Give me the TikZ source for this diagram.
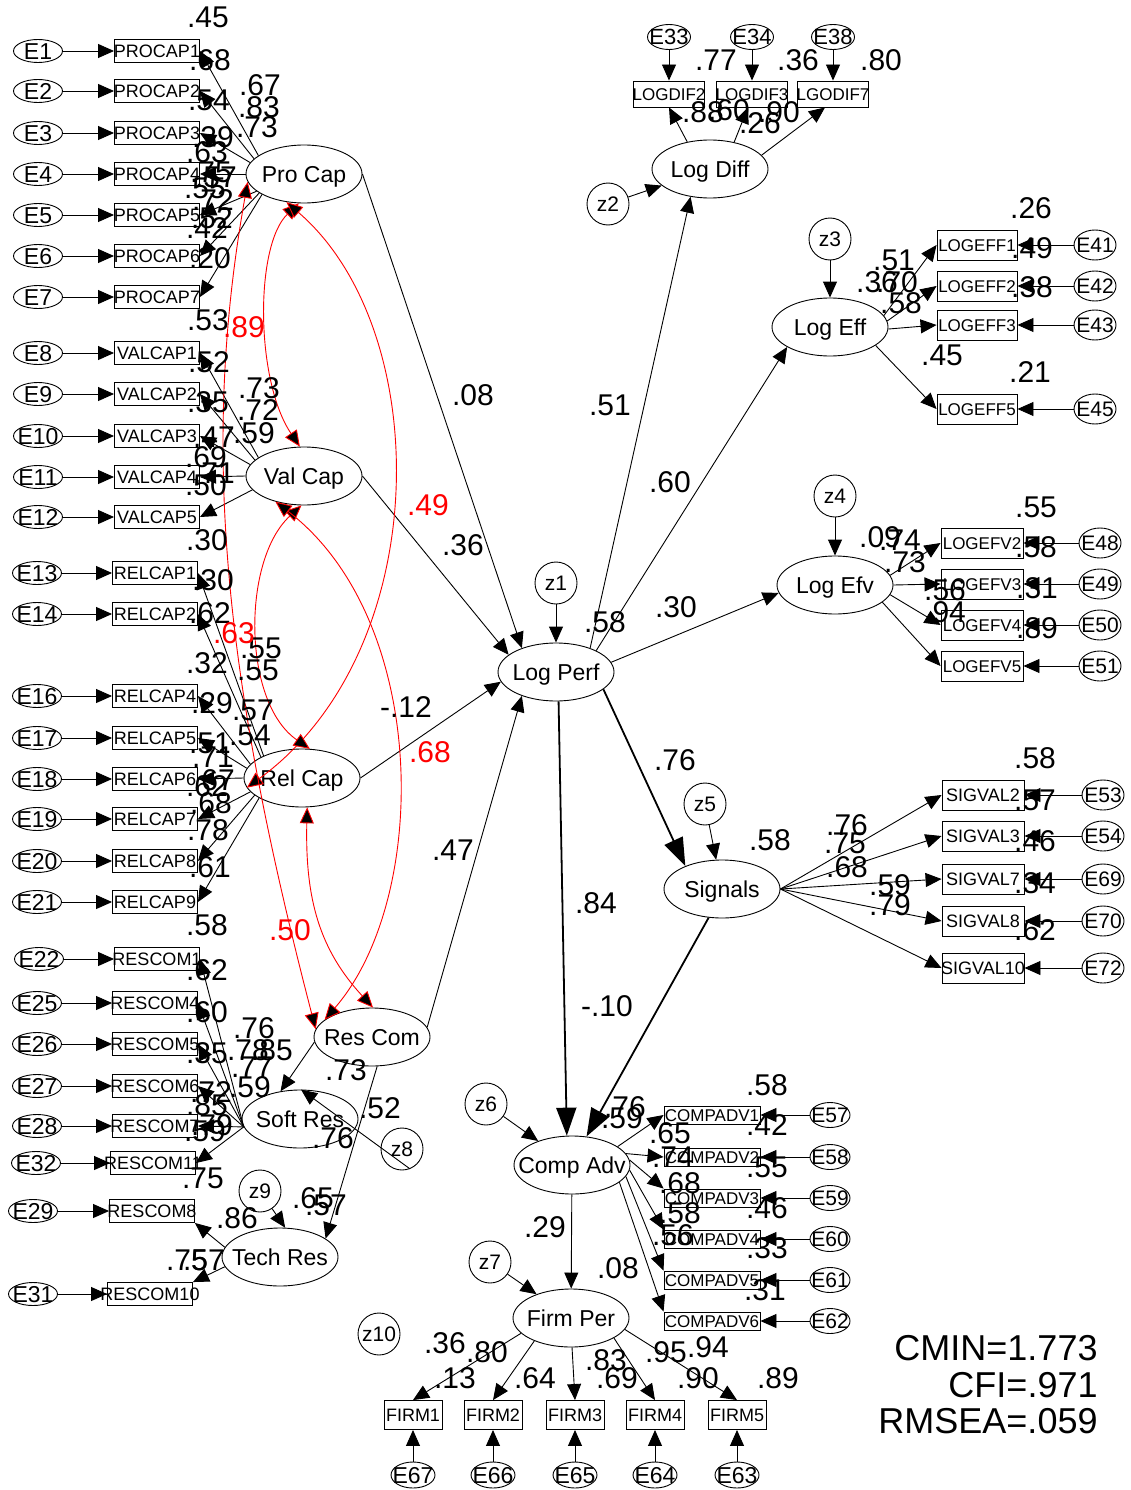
\documentclass[tikz,border=0pt]{standalone}
\usepackage{fontspec}
\setmainfont{Liberation Sans}
\usetikzlibrary{arrows.meta,shapes.geometric}
\newcommand\fs[1]{\fontsize{#1}{#1}\selectfont}
\newcommand\cTx[1]{\makebox[0pt]{\raisebox{-0.36em}[0pt][0pt]{#1}}}
\begin{document}
\begin{tikzpicture}[x=1pt,y=-1pt,line width=0.9pt,
 lat/.style={draw,ellipse,minimum width=116pt,minimum height=58pt,inner sep=0pt,font=\fs{23}},
 obs/.style={draw,rectangle,minimum width=85pt,minimum height=23pt,inner sep=0pt,font=\fs{18}},
 err/.style={draw,ellipse,minimum width=49pt,minimum height=23pt,inner sep=0pt,font=\fs{23}},
 rerr/.style={draw,ellipse,minimum width=42pt,minimum height=30pt,inner sep=0pt,font=\fs{21}},
 dis/.style={draw,circle,minimum size=42pt,inner sep=0pt,font=\fs{21}},
 lbl/.style={inner sep=0pt,font=\fs{30}},
 rlbl/.style={lbl,text=red},
 stat/.style={inner sep=0pt,font=\fs{36},anchor=east},
 pth/.style={line width=0.9pt,-{Triangle[length=16pt,width=14pt]}},
 thk/.style={line width=1.8pt,-{Triangle[length=28pt,width=20pt]}},
 cov/.style={red,line width=0.9pt,{Triangle[length=16pt,width=14pt,fill=black]}-{Triangle[length=16pt,width=14pt,fill=black]}}
]
\fill[white] (0,0) rectangle (1130,1490);
\useasboundingbox (0,0) rectangle (1130,1490);

% ---------- latent variables ----------
\node[lat] (pc) at (304,174) {\cTx{Pro Cap}};
\node[lat] (vc) at (304,476) {\cTx{Val Cap}};
\node[lat] (rl) at (302,778) {\cTx{Rel Cap}};
\node[lat] (rc) at (372,1037) {\cTx{Res Com}};
\node[lat] (sr) at (300,1119) {\cTx{Soft Res}};
\node[lat] (tr) at (280,1257) {\cTx{Tech Res}};
\node[lat] (lp) at (556,672) {\cTx{Log Perf}};
\node[lat] (ld) at (710,169) {\cTx{Log Diff}};
\node[lat] (le) at (830,327) {\cTx{Log Eff}};
\node[lat] (lv) at (835,585) {\cTx{Log Efv}};
\node[lat] (sg) at (722,889) {\cTx{Signals}};
\node[lat] (ca) at (572,1165) {\cTx{Comp Adv}};
\node[lat] (fp) at (571,1318) {\cTx{Firm Per}};

% ---------- disturbances ----------
\node[dis] (z1) at (556,583) {\cTx{z1}};
\node[dis] (z2) at (608,204) {\cTx{z2}};
\node[dis] (z3) at (830,239) {\cTx{z3}};
\node[dis] (z4) at (835,496) {\cTx{z4}};
\node[dis] (z5) at (705,804) {\cTx{z5}};
\node[dis] (z6) at (486,1104) {\cTx{z6}};
\node[dis] (z7) at (490,1262) {\cTx{z7}};
\node[dis] (z8) at (402,1149) {\cTx{z8}};
\node[dis] (z9) at (260,1191) {\cTx{z9}};
\node[dis] (z10) at (379,1334) {\cTx{z10}};

% ---------- left indicators ----------
\foreach \n/\y in {1/51,2/91,3/133,4/174,5/215,6/256,7/297}{
  \node[err] (E\n) at (38,\y) {\cTx{E\n}};
  \node[obs] (PC\n) at (157,\y) {\cTx{PROCAP\n}};
  \draw[pth] (E\n) -- (PC\n);
}
\foreach \n/\a in {1/158,2/163,3/168,4/180,5/200,6/203,7/206}{\draw[pth] (pc.\a) -- (PC\n.east);}

\foreach \e/\n/\y in {8/1/353,9/2/394,10/3/436,11/4/477,12/5/517}{
  \node[err] (E\e) at (38,\y) {\cTx{E\e}};
  \node[obs] (VC\n) at (157,\y) {\cTx{VALCAP\n}};
  \draw[pth] (E\e) -- (VC\n);
}
\foreach \n/\a in {1/158,2/162,3/168,4/180,5/195}{\draw[pth] (vc.\a) -- (VC\n.east);}

\foreach \e/\n/\y in {13/1/573,14/2/614,16/4/696,17/5/738,18/6/779,19/7/819,20/8/861,21/9/902}{
  \node[err] (E\e) at (37,\y) {\cTx{E\e}};
  \node[obs] (RL\n) at (155,\y) {\cTx{RELCAP\n}};
  \draw[pth] (E\e) -- (RL\n);
}
\foreach \n/\a in {1/150,2/153,4/165,5/170,6/180,7/195,8/200,9/205}{\draw[pth] (rl.\a) -- (RL\n.east);}

\foreach \e/\n/\bx/\ex/\y in {22/1/157/39/959,25/4/155/37/1003,26/5/155/37/1044,27/6/155/37/1086,28/7/155/37/1126,32/11/153/36/1163,29/8/152/33/1211,31/10/150/33/1294}{
  \node[err] (E\e) at (\ex,\y) {\cTx{E\e}};
  \node[obs] (RC\n) at (\bx,\y) {\cTx{RESCOM\n}};
  \draw[pth] (E\e) -- (RC\n);
}
\foreach \n in {1,4,5,6,7,11}{\draw[pth] (sr.188) -- (RC\n.east);}
\draw[pth] (tr.170) -- (RC8.south east);
\draw[pth] (tr.190) -- (RC10.north east);

% ---------- Log Diff ----------
\foreach \e/\n/\lb/\x in {33/2/LOGDIF2/669,34/3/LOGDIF3/752,38/7/LGODIF7/833}{
  \node[rerr,minimum width=43pt,minimum height=25pt,font=\fs{22}] (E\e) at (\x,37) {\cTx{E\e}};
  \node[obs,minimum width=71pt,minimum height=26pt,font=\fs{17}] (LD\n) at (\x,94) {\cTx{\lb}};
  \draw[pth] (E\e) -- (LD\n);
}
\draw[pth] (ld.130) -- (LD2.south);
\draw[pth] (ld.48) -- ([xshift=-4pt]LD3.south);
\draw[pth] (ld.15) -- ([xshift=-8pt]LD7.south);

% ---------- Log Eff ----------
\foreach \e/\n/\y in {41/1/245,42/2/286,43/3/325,45/5/409}{
  \node[rerr] (E\e) at (1095,\y) {\cTx{E\e}};
  \node[obs,minimum width=80pt,minimum height=30pt,font=\fs{17}] (LF\n) at (977,\y) {\cTx{LOGEFF\n}};
  \draw[pth] (E\e) -- (LF\n);
}
\foreach \n/\a in {1/12,2/6,3/-2,5/-22}{\draw[pth] (le.\a) -- (LF\n.west);}

% ---------- Log Efv ----------
\foreach \e/\n/\y in {48/2/543,49/3/584,50/4/625,51/5/666}{
  \node[rerr] (E\e) at (1100,\y) {\cTx{E\e}};
  \node[obs,minimum width=82pt,minimum height=30pt,font=\fs{17}] (LV\n) at (982,\y) {\cTx{LOGEFV\n}};
  \draw[pth] (E\e) -- (LV\n);
}
\foreach \n/\a in {2/10,3/0,4/-10,5/-20}{\draw[pth] (lv.\a) -- (LV\n.west);}

% ---------- Signals ----------
\foreach \e/\n/\y in {53/2/795,54/3/836,69/7/879,70/8/921,72/10/968}{
  \node[rerr] (E\e) at (1103,\y) {\cTx{E\e}};
  \node[obs,minimum width=82pt,minimum height=30pt,font=\fs{18}] (SV\n) at (983,\y) {\cTx{SIGVAL\n}};
  \draw[pth] (E\e) -- (SV\n);
}
\foreach \n in {2,3,7,8,10}{\draw[pth] (sg.east) -- (SV\n.west);}

% ---------- Comp Adv ----------
\foreach \e/\n/\y in {57/1/1115,58/2/1157,59/3/1198,60/4/1239,61/5/1280,62/6/1321}{
  \node[rerr,minimum width=40pt,minimum height=25pt] (E\e) at (830,\y) {\cTx{E\e}};
  \node[obs,minimum width=96pt,minimum height=18pt,font=\fs{17}] (CV\n) at (712,\y) {\cTx{COMPADV\n}};
  \draw[pth] (E\e) -- (CV\n);
}
\draw[pth] (ca.22) -- (CV1.west);
\draw[pth] (ca.12) -- (CV2.west);
\draw[pth] (ca.5) -- (CV3.north west);
\draw[pth] (ca.-5) -- (CV4.north west);
\draw[pth] (ca.-12) -- (CV5.north west);
\draw[pth] (ca.-20) -- (CV6.north west);

% ---------- Firm Per ----------
\foreach \e/\n/\x in {67/1/413,66/2/493,65/3/575,64/4/655,63/5/737}{
  \node[rerr,minimum width=44pt,minimum height=26pt,font=\fs{23}] (E\e) at (\x,1475) {\cTx{E\e}};
  \node[obs,minimum width=58pt,minimum height=29pt] (F\n) at (\x,1415) {\cTx{FIRM\n}};
  \draw[pth] (E\e) -- (F\n);
}
\draw[pth] (fp.197) -- (F1.north);
\draw[pth] (fp.212) -- (F2.north);
\draw[pth] (fp.-88) -- (F3.north);
\draw[pth] (fp.-25) -- (F4.north);
\draw[pth] (fp.-12) -- (F5.north);

% ---------- structural paths ----------
\draw[pth] (z1) -- (lp);
\draw[pth] (z2) -- (ld);
\draw[pth] (z3) -- (le);
\draw[pth] (z4) -- (lv);
\draw[pth] (z5) -- (sg);
\draw[pth] (z6) -- (ca);
\draw[pth] (z7) -- (fp);
\draw[pth] (z8.-68) -- (sr.88);
\draw[pth] (z9) -- (tr.80);

\draw[pth] (pc.east) -- (lp.145);
\draw[pth] (vc.east) -- (lp.160);
\draw[pth] (rl.east) -- (lp.190);
\draw[pth] (rc.10) -- (lp.215);
\draw[pth] (rc.185) -- (sr.125);
\draw[pth] (rc.-80) -- (tr.22);

\draw[pth] (lp.35) -- (ld.235);
\draw[pth] (lp.28) -- (le.205);
\draw[pth] (lp.10) -- (lv.188);
\draw[thk] (lp.-20) -- (sg.148);
\draw[thk] (lp.-85) -- (ca.100);
\draw[thk] (sg.245) -- (ca.63);
\draw[pth] (ca) -- (fp);

% ---------- covariances ----------
\draw[cov] (pc.-100) .. controls (255,245) and (255,380) .. (vc.98);
\draw[cov] (pc.-122) .. controls (435,330) and (435,650) .. (rl.190);
\draw[cov] (pc.188) .. controls (200,450) and (225,680) .. (rc.172);
\draw[cov] (vc.-95) .. controls (242,560) and (242,702) .. (rl.75);
\draw[cov] (vc.-138) .. controls (430,620) and (430,898) .. (rc.160);
\draw[cov] (rl.-80) .. controls (305,900) and (320,950) .. (rc.88);

% ---------- labels ----------
\node[lbl] (t1) at (208,17) {.45};
\node[lbl] (t2) at (210,60) {.68};
\node[lbl] (t3) at (260,85) {.67};
\node[lbl] (t4) at (209,100) {.54};
\node[lbl] (t5) at (259,107) {.83};
\node[lbl] (t6) at (257,127) {.73};
\node[lbl] (t7) at (213,137) {.39};
\node[lbl] (t8) at (207,152) {.63};
\node[lbl] (t9) at (211,172) {.75};
\node[lbl] (t10) at (216,177) {.57};
\node[lbl] (t11) at (205,188) {.55};
\node[lbl] (t12) at (213,200) {.72};
\node[lbl] (t13) at (212,218) {.52};
\node[lbl] (t14) at (207,228) {.42};
\node[lbl] (t15) at (210,258) {.20};
\node[lbl] (t16) at (208,320) {.53};
\node[lbl] (t17) at (209,362) {.52};
\node[lbl] (t18) at (259,388) {.73};
\node[lbl] (t19) at (208,402) {.35};
\node[lbl] (t20) at (258,410) {.72};
\node[lbl] (t21) at (214,437) {.47};
\node[lbl] (t22) at (254,433) {.59};
\node[lbl] (t23) at (206,457) {.69};
\node[lbl] (t24) at (214,473) {.71};
\node[lbl] (t25) at (206,485) {.50};
\node[lbl] (t26) at (207,540) {.30};
\node[lbl] (t27) at (213,580) {.30};
\node[lbl] (t28) at (210,613) {.62};
\node[lbl] (t29) at (261,648) {.55};
\node[lbl] (t30) at (207,663) {.32};
\node[lbl] (t31) at (258,670) {.55};
\node[lbl] (t32) at (212,703) {.29};
\node[lbl] (t33) at (253,710) {.57};
\node[lbl] (t34) at (250,735) {.54};
\node[lbl] (t35) at (210,743) {.51};
\node[lbl] (t36) at (213,757) {.71};
\node[lbl] (t37) at (207,786) {.62};
\node[lbl] (t38) at (214,780) {.67};
\node[lbl] (t39) at (211,803) {.68};
\node[lbl] (t40) at (208,830) {.78};
\node[lbl] (t41) at (210,867) {.61};
\node[lbl] (t42) at (207,925) {.58};
\node[lbl] (t43) at (207,970) {.62};
\node[lbl] (t44) at (207,1012) {.60};
\node[lbl] (t45) at (254,1028) {.76};
\node[lbl] (t46) at (207,1053) {.35};
\node[lbl] (t47) at (248,1050) {.78};
\node[lbl] (t48) at (272,1050) {.85};
\node[lbl] (t49) at (346,1070) {.73};
\node[lbl] (t50) at (252,1067) {.77};
\node[lbl] (t51) at (250,1087) {.59};
\node[lbl] (t52) at (211,1092) {.72};
\node[lbl] (t53) at (207,1105) {.85};
\node[lbl] (t54) at (212,1125) {.79};
\node[lbl] (t55) at (205,1131) {.59};
\node[lbl] (t56) at (380,1108) {.52};
\node[lbl] (t57) at (333,1138) {.76};
\node[lbl] (t58) at (203,1178) {.75};
\node[lbl] (t59) at (313,1198) {.65};
\node[lbl] (t60) at (326,1205) {.57};
\node[lbl] (t61) at (237,1218) {.86};
\node[lbl] (t62) at (187,1260) {.75};
\node[lbl] (t63) at (204,1260) {.57};
\node[rlbl] (r1) at (244,327) {.89};
\node[rlbl] (r2) at (428,505) {.49};
\node[rlbl] (r3) at (234,633) {.63};
\node[rlbl] (r4) at (430,752) {.68};
\node[rlbl] (r5) at (290,930) {.50};
\node[lbl] (t64) at (473,395) {.08};
\node[lbl] (t65) at (463,545) {.36};
\node[lbl] (t66) at (406,707) {-.12};
\node[lbl] (t67) at (453,850) {.47};
\node[lbl] (t68) at (610,405) {.51};
\node[lbl] (t69) at (670,482) {.60};
\node[lbl] (t70) at (676,607) {.30};
\node[lbl] (t71) at (605,622) {.58};
\node[lbl] (t72) at (675,760) {.76};
\node[lbl] (t73) at (770,840) {.58};
\node[lbl] (t74) at (596,903) {.84};
\node[lbl] (t75) at (607,1006) {-.10};
\node[lbl] (t76) at (716,60) {.77};
\node[lbl] (t77) at (798,60) {.36};
\node[lbl] (t78) at (881,60) {.80};
\node[lbl] (t79) at (703,112) {.88};
\node[lbl] (t80) at (729,110) {.60};
\node[lbl] (t81) at (779,112) {.90};
\node[lbl] (t82) at (760,123) {.26};
\node[lbl] (t83) at (1031,208) {.26};
\node[lbl] (t84) at (1032,248) {.49};
\node[lbl] (t85) at (1032,287) {.38};
\node[lbl] (t86) at (942,355) {.45};
\node[lbl] (t87) at (1030,372) {.21};
\node[lbl] (t88) at (894,260) {.51};
\node[lbl] (t89) at (877,282) {.36};
\node[lbl] (t90) at (897,282) {.70};
\node[lbl] (t91) at (901,303) {.58};
\node[lbl] (t92) at (1036,507) {.55};
\node[lbl] (t93) at (1036,547) {.58};
\node[lbl] (t94) at (1037,588) {.31};
\node[lbl] (t95) at (1037,628) {.89};
\node[lbl] (t96) at (880,537) {.09};
\node[lbl] (t97) at (900,540) {.74};
\node[lbl] (t98) at (905,562) {.73};
\node[lbl] (t99) at (945,590) {.56};
\node[lbl] (t100) at (945,612) {.94};
\node[lbl] (t101) at (1035,758) {.58};
\node[lbl] (t102) at (1035,800) {.57};
\node[lbl] (t103) at (1035,841) {.46};
\node[lbl] (t104) at (1035,883) {.34};
\node[lbl] (t105) at (1035,930) {.62};
\node[lbl] (t106) at (847,825) {.76};
\node[lbl] (t107) at (845,843) {.75};
\node[lbl] (t108) at (847,867) {.68};
\node[lbl] (t109) at (890,885) {.59};
\node[lbl] (t110) at (890,905) {.79};
\node[lbl] (t111) at (767,1085) {.58};
\node[lbl] (t112) at (767,1125) {.42};
\node[lbl] (t113) at (767,1167) {.55};
\node[lbl] (t114) at (767,1208) {.46};
\node[lbl] (t115) at (767,1248) {.33};
\node[lbl] (t116) at (765,1290) {.31};
\node[lbl] (t117) at (625,1107) {.76};
\node[lbl] (t118) at (622,1118) {.59};
\node[lbl] (t119) at (670,1133) {.65};
\node[lbl] (t120) at (673,1157) {.74};
\node[lbl] (t121) at (680,1183) {.68};
\node[lbl] (t122) at (680,1213) {.58};
\node[lbl] (t123) at (673,1235) {.56};
\node[lbl] (t124) at (545,1227) {.29};
\node[lbl] (t125) at (618,1268) {.08};
\node[lbl] (t126) at (445,1343) {.36};
\node[lbl] (t127) at (487,1352) {.80};
\node[lbl] (t128) at (455,1378) {.13};
\node[lbl] (t129) at (535,1378) {.64};
\node[lbl] (t130) at (606,1360) {.83};
\node[lbl] (t131) at (617,1378) {.69};
\node[lbl] (t132) at (666,1352) {.95};
\node[lbl] (t133) at (708,1347) {.94};
\node[lbl] (t134) at (698,1378) {.90};
\node[lbl] (t135) at (778,1378) {.89};

% ---------- fit statistics ----------
\node[stat] (s1) at (1098,1348) {CMIN=1.773};
\node[stat] (s2) at (1098,1385) {CFI=.971};
\node[stat] (s3) at (1098,1421) {RMSEA=.059};
\end{tikzpicture}
\end{document}
